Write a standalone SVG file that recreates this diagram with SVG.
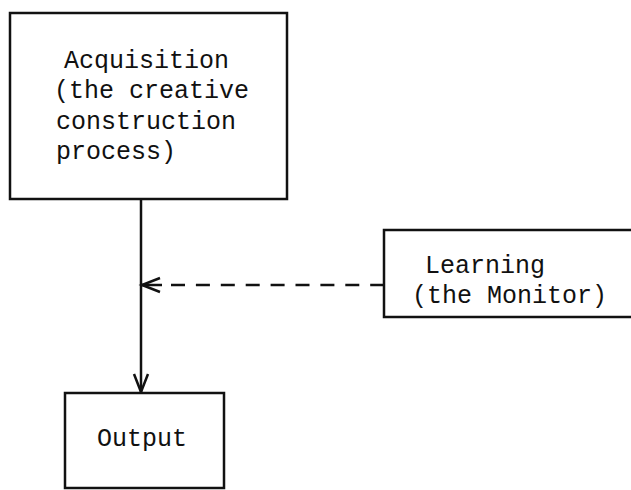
<svg xmlns="http://www.w3.org/2000/svg" width="631" height="490" viewBox="0 0 631 490">
<style>
.box{fill:#fff;stroke:#111;stroke-width:2.5}
.lbl{font-family:"Liberation Mono","DejaVu Sans Mono",monospace;font-size:25px;fill:#111}
.ln{fill:none;stroke:#111;stroke-width:2.5}
.dash{fill:none;stroke:#111;stroke-width:2.5;stroke-dasharray:14 10.9}
</style>
<defs>
<marker id="arr" markerUnits="userSpaceOnUse" markerWidth="24" markerHeight="20" viewBox="-20 -10 24 20" refX="0" refY="0" orient="auto">
<path d="M-18,-7 L0,0 L-18,7" fill="none" stroke="#111" stroke-width="2.5"/>
</marker>
</defs>
<rect width="631" height="490" fill="#fff"/>
<g id="connectors">
<path class="ln" d="M141,199 V392" marker-end="url(#arr)"/>
<path class="dash" d="M171,285 H384"/>
<path class="ln" d="M162,285 H142" marker-end="url(#arr)"/>
</g>
<g id="acquisition">
<rect class="box" x="10" y="13" width="277" height="186"/>
<text class="lbl" x="64" y="68">Acquisition</text>
<text class="lbl" x="54" y="98">(the creative</text>
<text class="lbl" x="56" y="129">construction</text>
<text class="lbl" x="56" y="159">process)</text>
</g>
<g id="learning">
<rect class="box" x="384" y="230" width="260" height="87"/>
<text class="lbl" x="425" y="273">Learning</text>
<text class="lbl" x="412" y="303">(the Monitor)</text>
</g>
<g id="output">
<rect class="box" x="65" y="393" width="159" height="95"/>
<text class="lbl" x="97" y="446">Output</text>
</g>
</svg>
